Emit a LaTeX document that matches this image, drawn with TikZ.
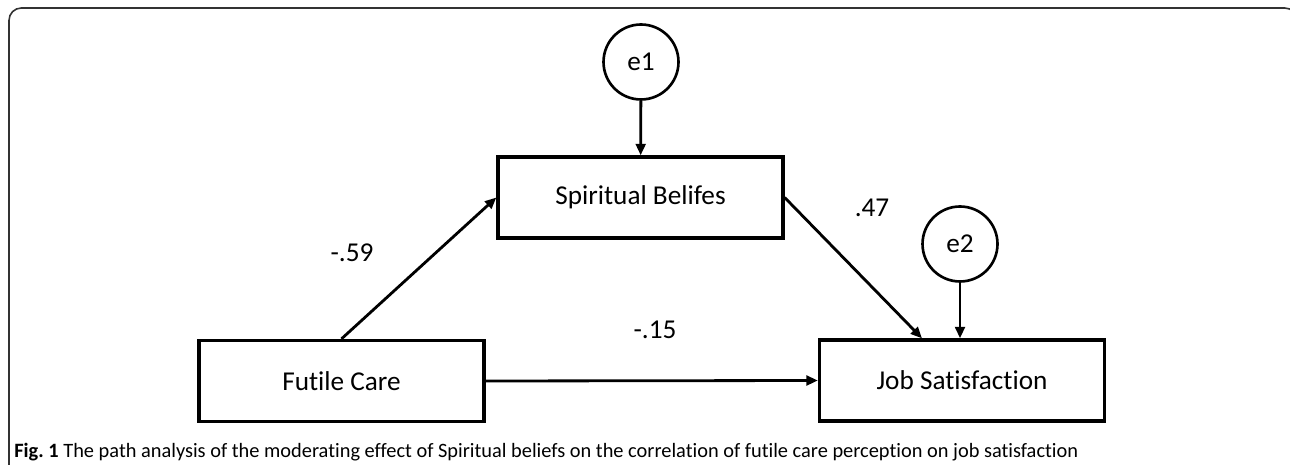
\documentclass[tikz,border=0pt]{standalone}
\usepackage{fontspec}
\setmainfont{Carlito}[Ligatures=CommonOff]
\usetikzlibrary{arrows.meta,positioning}

\begin{document}
\begin{tikzpicture}[x=0.02cm,y=-0.02cm]
        \tikzset{var/.style={draw, line width=1.9pt, minimum width=5.7cm, minimum height=1.62cm, inner sep=0pt, font=\fontsize{15.5}{18}\selectfont},
                 err/.style={draw, circle, line width=1.5pt, minimum size=1.5cm, inner sep=0pt, font=\fontsize{15.5}{18}\selectfont},
                 link/.style={line width=1.6pt, -{Triangle[length=6.5pt, width=5.5pt]}},
                 coef/.style={font=\fontsize{15.5}{18}\selectfont}}
        \useasboundingbox (0,0) rectangle (1290,465);
        %
        \draw[line width=0.9pt, black!80, rounded corners=7pt] (9,480) -- (9,8) -- (1297,8) -- (1297,480);
        %
        \draw (640.5,197.5) node[var](SB){Spiritual Belifes};
        \draw (341.5,381) node[var](FC){Futile Care};
        \draw (962,380.5) node[var](JS){Job Satisfaction};
        \draw (641,62) node[err](E1){e1};
        \draw (960,244) node[err](E2){e2};
        %
        \draw[link] (E1) -- (SB);
        \draw[link] (FC.north) -- (SB.west);
        \draw[link] (SB.east) -- ([xshift=-0.8cm]JS.north);
        \draw[link] (E2.south) -- (E2.south |- JS.north);
        \draw[link] (FC.east) -- (JS.west);
        %
        \draw (352,253) node[coef](B1){-.59};
        \draw (872,208) node[coef](B2){.47};
        \draw (655,330) node[coef](B3){-.15};
        %
        \draw (14,452) node[anchor=west, inner sep=0pt, font=\fontsize{11.6}{13}\selectfont](cap){\textbf{Fig.\ 1} The path analysis of the moderating effect of Spiritual beliefs on the correlation of futile care perception on job satisfaction};
\end{tikzpicture}
\end{document}
